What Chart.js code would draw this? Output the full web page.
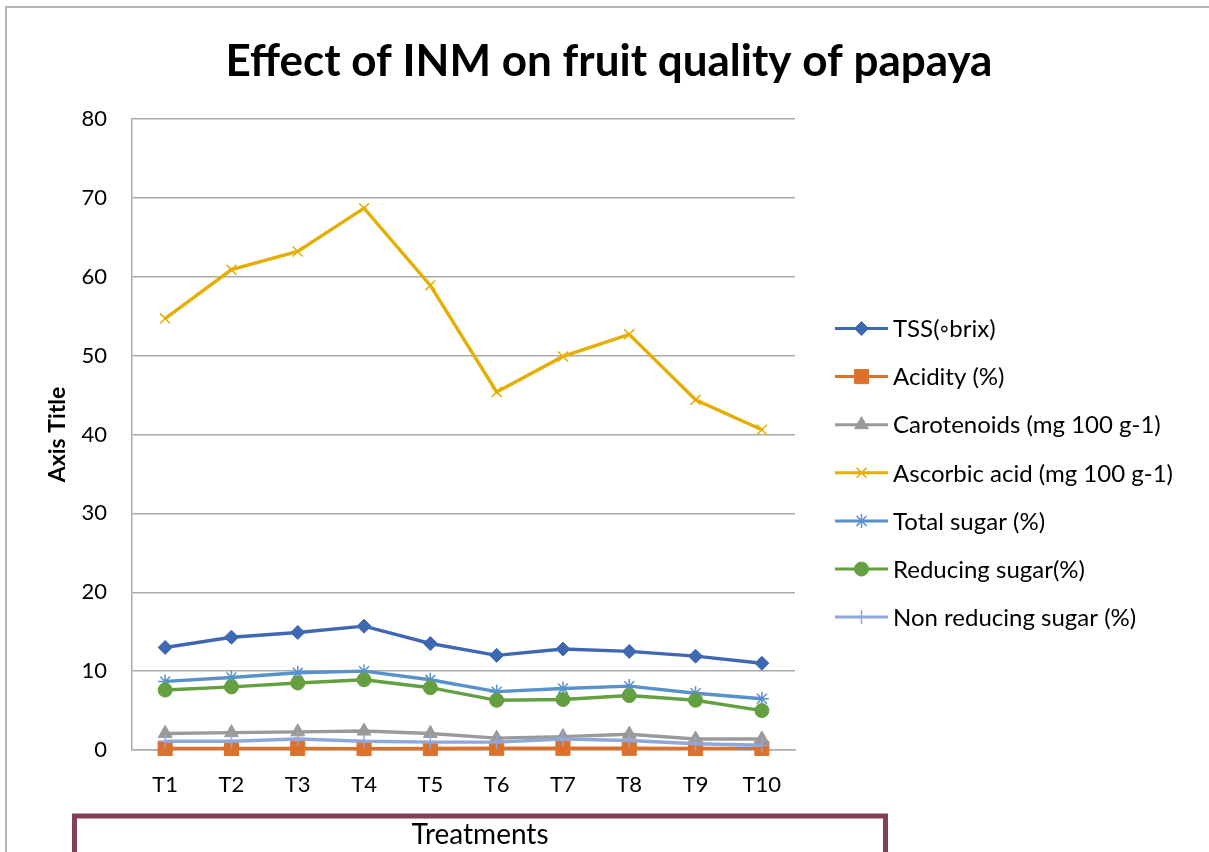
<!DOCTYPE html>
<html>
<head>
<meta charset="utf-8">
<title>Effect of INM on fruit quality of papaya</title>
<script src="https://cdn.jsdelivr.net/npm/chart.js@4.4.1/dist/chart.umd.min.js"></script>
<style>
  html, body { margin: 0; padding: 0; background: #fff; }
  canvas { display: block; }
</style>
</head>
<body>
<canvas id="inmChart" width="1209" height="852"></canvas>
<script>
// ── data ──
const treatments    = ['T1','T2','T3','T4','T5','T6','T7','T8','T9','T10'];
const tss           = [13.0, 14.3, 14.9, 15.7, 13.5, 12.0, 12.8, 12.5, 11.9, 11.0];
const acidity       = [0.20, 0.20, 0.20, 0.18, 0.19, 0.22, 0.22, 0.22, 0.20, 0.20];
const carotenoids   = [2.1, 2.2, 2.3, 2.4, 2.1, 1.5, 1.7, 2.0, 1.4, 1.4];
const ascorbic      = [54.7, 60.9, 63.2, 68.7, 58.9, 45.4, 49.9, 52.7, 44.4, 40.6];
const totalSugar    = [8.7, 9.2, 9.8, 10.0, 8.9, 7.4, 7.8, 8.1, 7.2, 6.5];
const reducingSugar = [7.6, 8.0, 8.5, 8.9, 7.9, 6.3, 6.4, 6.9, 6.3, 5.0];
const nonReducing   = [1.1, 1.1, 1.4, 1.1, 1.0, 1.0, 1.4, 1.2, 0.8, 0.6];

const seriesNames = ['TSS(◦brix)','Acidity (%)','Carotenoids (mg 100 g-1)','Ascorbic acid (mg 100 g-1)',
                     'Total sugar (%)','Reducing sugar(%)','Non reducing sugar (%)'];
const seriesData  = [tss, acidity, carotenoids, ascorbic, totalSugar, reducingSugar, nonReducing];
const seriesColors = ['#3F68B2','#DB722C','#9A9A9A','#E6AE00','#5892CB','#65A040','#8FA7DA'];
const seriesMarkers = ['rectRot','rect','triangle','crossRot','star','circle','cross'];
const markerRadius  = [7, 10, 8, 7, 7, 7, 7];

const TITLE = 'Effect of INM on fruit quality of papaya';
const FONT = 'Lato, "Open Sans", "DejaVu Sans", sans-serif';
const GRID = '#ABABAB';

// ── frame, title, legend and the boxed x title ──
const decorPlugin = {
  id: 'decor',
  beforeDraw(chart) {
    const ctx = chart.ctx;
    ctx.save();
    ctx.fillStyle = '#fff';
    ctx.fillRect(0, 0, chart.width, chart.height);
    ctx.strokeStyle = '#B4B4B4';
    ctx.lineWidth = 2;
    ctx.beginPath();
    ctx.moveTo(6, chart.height);
    ctx.lineTo(6, 7);
    ctx.lineTo(chart.width, 7);
    ctx.stroke();
    ctx.restore();
  },
  afterDraw(chart) {
    const ctx = chart.ctx;
    ctx.save();
    // chart title, centred on the whole canvas
    ctx.fillStyle = '#000';
    ctx.font = 'bold 44px ' + FONT;
    ctx.textAlign = 'center';
    ctx.textBaseline = 'alphabetic';
    ctx.fillText(TITLE, 609, 76);
    // legend
    const x0 = 835, x1 = 888, textX = 893, top = 328.5, step = 48.1;
    chart.data.datasets.forEach((ds, i) => {
      const y = top + i * step;
      ctx.strokeStyle = ds.borderColor;
      ctx.lineWidth = 3;
      ctx.beginPath();
      ctx.moveTo(x0, y);
      ctx.lineTo(x1, y);
      ctx.stroke();
      ctx.fillStyle = ds.pointBackgroundColor;
      ctx.strokeStyle = ds.pointBorderColor;
      ctx.lineWidth = ds.pointBorderWidth;
      Chart.helpers.drawPoint(ctx, { pointStyle: ds.pointStyle, radius: ds.pointRadius, rotation: 0, borderWidth: ds.pointBorderWidth }, (x0 + x1) / 2, y);
      ctx.fillStyle = '#000';
      ctx.font = '24px ' + FONT;
      ctx.textBaseline = 'middle';
      ctx.textAlign = 'left';
      ctx.fillText(ds.label, textX, y + 1);
    });
    // x axis title in a box
    ctx.strokeStyle = '#843F50';
    ctx.lineWidth = 5;
    ctx.strokeRect(74.5, 816, 811, 60);
    ctx.fillStyle = '#000';
    ctx.font = '28px ' + FONT;
    ctx.textAlign = 'center';
    ctx.textBaseline = 'middle';
    ctx.fillText('Treatments', 480, 835);
    ctx.restore();
  }
};

const datasets = seriesNames.map((name, i) => ({
  label: name,
  data: seriesData[i],
  borderColor: seriesColors[i],
  backgroundColor: seriesColors[i],
  borderWidth: 3.4,
  tension: 0,
  clip: false,
  pointStyle: seriesMarkers[i],
  pointRadius: markerRadius[i],
  pointBackgroundColor: seriesColors[i],
  pointBorderColor: seriesColors[i],
  pointBorderWidth: ['crossRot','star','cross'].includes(seriesMarkers[i]) ? 1.5 : 1,
  pointHoverRadius: markerRadius[i],
  order: seriesNames.length - i,
  fill: false,
}));

new Chart(document.getElementById('inmChart').getContext('2d'), {
  type: 'line',
  data: { labels: treatments, datasets },
  plugins: [decorPlugin],
  options: {
    responsive: false,
    animation: false,
    layout: { padding: { left: 0, top: 0, right: 414, bottom: 54 } },
    plugins: {
      legend: { display: false },
      tooltip: { enabled: false },
      // kept only as a spacer; the visible title is drawn centred by the plugin
      title: {
        display: true,
        text: TITLE,
        color: 'rgba(0,0,0,0)',
        font: { family: FONT, size: 40, weight: 'bold', lineHeight: 1.2 },
        padding: { top: 36, bottom: 35 },
      },
    },
    scales: {
      x: {
        offset: true,
        grid: { display: false, drawTicks: false },
        border: { display: true, color: GRID, width: 1.5 },
        ticks: { color: '#000', padding: 22, font: { family: FONT, size: 22, lineHeight: 1.2 } },
        afterFit: s => { s.height = 48; },
      },
      y: {
        min: 0, max: 80,
        grid: { color: GRID, lineWidth: 1.5, drawTicks: false },
        border: { display: true, color: GRID, width: 1.5 },
        ticks: { stepSize: 10, color: '#000', padding: 25, font: { family: FONT, size: 22, lineHeight: 1.2 } },
        title: {
          display: true, text: 'Axis Title', color: '#000',
          font: { family: FONT, size: 23, weight: 'bold', lineHeight: 1.2 },
          padding: { top: 44 },
        },
        afterFit: s => { s.width = 132; },
      }
    }
  }
});
</script>
</body>
</html>
